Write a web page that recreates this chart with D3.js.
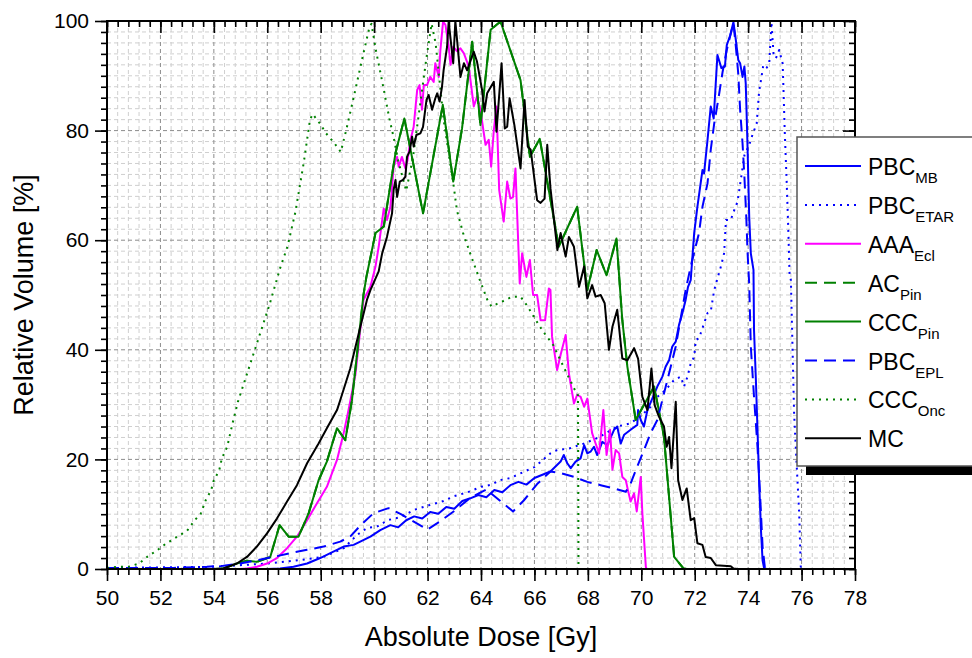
<!DOCTYPE html>
<html>
<head>
<meta charset="utf-8">
<script src="https://cdn.jsdelivr.net/npm/d3@7"></script>
<style>
  html, body { margin: 0; padding: 0; background: #fff; }
  svg { display: block; }
  text { font-family: Arial, "Liberation Sans", sans-serif; fill: #000; }
</style>
</head>
<body>
<svg id="chart" width="972" height="658"></svg>
<script>
// Dose-volume histogram data: [absolute dose (Gy), relative volume (%)]
const PBC_MB = [
  [50.0,0],[56.0,0],[56.48,0.1],[56.98,0.4],[57.49,1.0],[57.98,2.0],[58.36,2.9],[58.86,4.1],[59.23,4.4],[59.48,5.0],
  [59.86,5.9],[60.23,7.1],[60.61,8.0],[60.9,7.6],[61.2,8.9],[61.5,9.6],[61.8,9.2],[62.1,10.4],[62.4,10.1],[62.7,11.3],
  [63.0,11.0],[63.3,12.4],[63.6,12.9],[63.9,13.5],[64.2,13.1],[64.5,14.4],[64.8,14.0],[65.1,15.3],[65.4,15.9],[65.7,15.4],
  [66.0,16.6],[66.3,17.2],[66.6,17.8],[66.79,18.7],[66.98,19.6],[67.1,20.8],[67.23,19.3],[67.36,18.4],[67.54,19.6],[67.73,20.2],
  [67.86,22.6],[67.98,21.1],[68.1,21.4],[68.23,22.3],[68.35,20.8],[68.54,23.2],[68.73,22.6],[68.98,25.4],[69.1,26.0],[69.23,22.9],
  [69.36,24.5],[69.6,25.4],[69.85,26.3],[69.88,29.0],[69.98,27.2],[70.1,26.0],[70.23,29.0],[70.6,33.3],[70.79,35.1],[70.91,36.9],
  [71.04,38.1],[71.16,40.6],[71.29,41.5],[71.41,44.5],[71.54,46.7],[71.66,49.1],[71.75,51.5],[71.85,52.7],[71.98,61.3],[72.1,66.1],
  [72.29,72.8],[72.35,72.2],[72.48,78.3],[72.6,84.4],[72.71,82.2],[72.85,93.8],[73.0,91.4],[73.13,91.7],[73.2,95.6],[73.33,97.4],
  [73.45,99.8],[73.54,96.5],[73.63,92.9],[73.7,92.3],[73.79,89.8],[73.86,91.7],[73.91,88.6],[73.95,81.9],[73.98,76.5],[74.04,64.3],
  [74.1,57.6],[74.2,54.6],[74.22,43.6],[74.29,34.5],[74.35,25.4],[74.41,16.2],[74.48,7.1],[74.54,1.6],[74.6,0.1],[74.7,0]
];
const PBC_ETAR = [
  [50.0,0.2],[54.0,0.4],[56.0,1.0],[57.0,1.5],[58.1,2.2],[58.86,3.8],[59.36,6.2],[59.74,7.5],[60.1,7.7],[60.5,8.9],
  [61.0,9.5],[61.5,10.8],[62.1,11.7],[62.6,12.4],[63.0,13.3],[63.5,14.0],[64.0,15.0],[64.4,15.4],[64.7,16.2],[65.1,16.6],
  [65.5,17.5],[66.0,18.6],[66.6,21.1],[66.85,21.7],[67.3,22.0],[67.86,22.9],[68.4,24.0],[69.1,26.0],[69.6,26.6],[70.0,28.0],
  [70.35,29.6],[70.6,31.4],[70.91,32.7],[71.23,34.5],[71.48,35.1],[71.6,33.3],[71.73,35.1],[71.85,37.5],[71.98,38.7],[72.04,41.8],
  [72.16,42.1],[72.35,44.8],[72.48,46.7],[72.6,47.0],[72.73,50.9],[72.85,53.0],[72.98,55.2],[73.1,57.6],[73.17,63.7],[73.35,63.7],
  [73.48,65.5],[73.6,67.0],[73.67,69.2],[73.86,75.5],[74.04,77.4],[74.16,79.2],[74.32,81.3],[74.41,87.1],[74.5,89.8],[74.57,92.0],
  [74.7,91.5],[74.79,92.3],[74.85,97.7],[74.87,99.8],[74.95,94.1],[75.04,93.2],[75.16,94.7],[75.29,92.3],[75.32,88.0],[75.37,79.8],
  [75.44,71.0],[75.5,62.5],[75.55,54.0],[75.6,52.7],[75.66,40.6],[75.72,28.4],[75.82,18.7],[75.91,10.2],[75.97,0.4],[76.0,0]
];
const AAA_Ecl = [
  [50.0,0],[55.0,0],[55.24,0.1],[55.61,0.4],[55.99,1.0],[56.36,2.0],[56.74,3.8],[57.11,5.9],[57.49,8.9],[57.86,12.0],
  [58.23,15.0],[58.61,19.9],[58.86,24.8],[59.04,29.0],[59.3,35.5],[59.6,49.1],[59.86,51.5],[60.05,55.2],[60.17,58.8],[60.36,65.8],
  [60.48,63.7],[60.61,66.1],[60.73,73.4],[60.86,75.2],[60.92,73.4],[61.04,75.2],[61.17,73.1],[61.25,74.6],[61.36,78.3],[61.48,80.7],
  [61.61,87.4],[61.7,88.3],[61.79,83.8],[61.86,88.3],[61.98,88.3],[62.1,89.8],[62.23,88.9],[62.29,92.3],[62.42,89.8],[62.48,94.7],
  [62.58,99.9],[62.67,99.3],[62.79,95.3],[62.86,92.0],[62.96,95.3],[63.1,94.5],[63.23,95.0],[63.36,94.1],[63.54,91.7],[63.73,84.4],
  [63.85,86.2],[63.98,83.8],[64.07,80.7],[64.17,77.4],[64.29,78.3],[64.38,73.4],[64.48,80.1],[64.58,84.4],[64.68,69.2],[64.85,63.4],
  [64.98,70.7],[65.1,67.6],[65.2,67.9],[65.29,73.1],[65.45,52.1],[65.54,57.6],[65.7,53.3],[65.83,56.4],[65.95,50.0],[66.1,50.0],
  [66.23,45.4],[66.4,45.4],[66.54,51.2],[66.6,50.9],[66.66,42.4],[66.85,36.3],[66.98,39.1],[67.17,42.7],[67.29,35.7],[67.48,30.2],
  [67.6,31.8],[67.73,31.4],[67.86,29.6],[67.98,31.1],[68.16,24.8],[68.29,22.9],[68.42,21.1],[68.58,29.0],[68.7,20.8],[68.83,25.4],
  [68.92,18.1],[69.04,21.7],[69.17,21.1],[69.29,16.8],[69.42,16.2],[69.5,14.4],[69.6,12.3],[69.73,13.8],[69.83,10.5],[69.98,16.8],
  [70.04,10.2],[70.17,0.4],[70.2,0]
];
const CCC_Pin = [
  [50.0,0],[54.0,0],[54.36,0.1],[54.86,1.0],[55.24,1.5],[55.61,1.3],[56.11,2.2],[56.46,8.0],[56.8,5.9],[57.17,5.9],
  [57.55,10.2],[57.92,16.2],[58.23,19.6],[58.61,25.7],[58.92,23.5],[59.17,30.8],[59.6,50.0],[59.71,53.3],[60.05,61.3],[60.36,62.5],
  [60.8,75.9],[61.13,82.2],[61.29,78.3],[61.83,64.9],[62.57,84.7],[62.96,70.7],[63.29,80.4],[63.67,96.2],[63.98,81.0],[64.36,98.4],
  [64.73,99.9],[65.48,89.2],[65.83,75.2],[66.2,78.5],[66.91,58.8],[67.6,66.1],[67.98,50.9],[68.33,58.2],[68.7,53.6],[69.07,60.3],
  [69.29,45.4],[69.48,36.9],[69.79,27.2],[70.48,33.3],[70.85,24.1],[71.23,2.2],[71.58,0.1],[71.7,0]
];
// AC (Pinnacle) coincides with the CCC (Pinnacle) curve
const AC_Pin = CCC_Pin.map(d => [d[0], d[1]]);
const PBC_EPL = [
  [50.0,0.2],[52.48,0.2],[53.74,0.4],[54.36,0.6],[54.99,1.0],[55.61,1.6],[56.23,2.2],[56.86,2.9],[57.49,3.5],[58.11,4.1],
  [58.73,5.0],[59.1,5.9],[59.5,8.0],[59.98,10.2],[60.54,11.1],[61.0,10.0],[61.5,8.6],[62.0,7.2],[62.5,8.8],[63.0,10.6],
  [63.6,13.0],[64.2,14.5],[64.7,12.5],[65.2,10.5],[65.6,12.5],[66.1,15.5],[66.6,17.8],[66.98,17.5],[67.48,16.8],[67.98,15.9],
  [68.48,15.3],[68.98,14.7],[69.42,14.1],[69.6,15.6],[69.85,18.7],[70.1,21.7],[70.35,24.8],[70.6,27.2],[71.04,35.7],[71.29,40.6],
  [71.66,50.9],[71.85,55.2],[72.16,61.3],[72.29,66.1],[72.48,70.4],[72.6,76.5],[72.73,81.3],[72.88,85.6],[73.04,90.6],[73.2,94.7],
  [73.35,97.7],[73.45,99.6],[73.54,95.3],[73.63,90.4],[73.7,83.8],[73.79,77.7],[73.86,71.6],[73.93,64.3],[73.98,57.6],[74.04,52.0],
  [74.1,40.6],[74.22,31.4],[74.35,22.3],[74.45,13.2],[74.54,4.1],[74.63,0.1],[74.7,0]
];
const CCC_Onc = [
  [50.0,0.2],[50.4,0.4],[50.8,0.4],[51.2,1.0],[51.5,2.2],[51.9,3.5],[52.2,4.6],[52.6,5.8],[53.0,7.0],[53.3,9.0],
  [53.5,10.0],[53.7,12.6],[53.9,14.4],[54.0,16.2],[54.2,18.0],[54.3,20.2],[54.5,22.3],[54.7,26.6],[54.9,30.5],[55.3,36.5],
  [55.7,42.5],[56.1,48.5],[56.48,54.9],[56.76,58.9],[57.05,65.1],[57.36,74.0],[57.6,82.0],[57.7,83.0],[57.97,81.3],[58.2,79.5],
  [58.5,77.8],[58.75,76.1],[58.96,80.2],[59.25,86.4],[59.53,92.6],[59.83,99.0],[59.9,99.5],[60.06,94.8],[60.32,88.5],[60.57,82.2],
  [60.75,78.3],[60.9,74.5],[61.2,69.0],[61.45,75.0],[61.7,84.0],[61.95,93.0],[62.15,99.5],[62.3,96.0],[62.6,82.0],[62.98,69.8],
  [63.1,65.4],[63.33,61.3],[63.63,57.1],[63.92,53.2],[64.23,49.2],[64.39,47.9],[64.79,48.8],[65.17,49.7],[65.48,49.7],[65.75,47.9],
  [65.98,46.0],[66.3,43.5],[66.7,40.9],[67.1,36.8],[67.48,33.0],[67.63,31.7],[67.65,0]
];
const MC = [
  [50.0,0],[54.0,0],[54.36,0.1],[54.86,1.0],[55.24,2.2],[55.61,4.1],[55.99,6.5],[56.36,9.2],[56.74,12.3],[57.11,15.3],
  [57.49,19.3],[57.92,22.9],[58.23,25.7],[58.61,29.0],[58.73,30.8],[59.1,36.5],[59.4,42.5],[59.73,49.1],[59.86,50.9],[60.05,53.0],
  [60.17,54.3],[60.3,57.6],[60.48,60.6],[60.67,64.9],[60.73,69.2],[60.8,71.0],[60.86,67.9],[60.96,70.7],[61.08,71.0],[61.17,71.6],
  [61.23,75.2],[61.33,76.2],[61.42,78.9],[61.48,77.1],[61.58,79.2],[61.73,79.5],[61.83,80.7],[61.96,85.6],[62.04,86.5],[62.17,83.8],
  [62.29,85.9],[62.36,86.8],[62.45,85.3],[62.54,88.0],[62.6,91.0],[62.73,95.3],[62.79,99.9],[62.96,92.3],[63.04,100],[63.23,89.8],
  [63.36,92.3],[63.48,91.0],[63.73,94.4],[63.85,92.6],[64.04,87.4],[64.13,83.5],[64.23,86.8],[64.48,88.9],[64.58,79.8],[64.77,92.3],
  [64.89,80.4],[64.98,80.7],[65.07,85.9],[65.25,81.0],[65.48,73.1],[65.63,85.6],[65.75,77.1],[65.86,76.5],[66.1,67.3],[66.23,66.8],
  [66.38,67.6],[66.48,77.4],[66.6,69.5],[66.86,58.2],[66.98,61.3],[67.17,57.0],[67.29,60.6],[67.48,58.8],[67.67,51.5],[67.86,55.2],
  [67.98,49.4],[68.16,51.8],[68.29,49.7],[68.48,50.0],[68.63,48.5],[68.79,40.0],[68.92,44.2],[69.1,47.3],[69.29,38.4],[69.48,38.1],
  [69.73,40.3],[69.88,38.4],[70.04,31.4],[70.23,29.0],[70.38,36.6],[70.5,29.9],[70.66,27.8],[70.85,26.0],[70.95,22.3],[71.04,24.1],
  [71.13,18.4],[71.29,30.5],[71.38,16.2],[71.54,12.6],[71.7,14.7],[71.85,8.9],[71.98,9.3],[72.1,4.7],[72.29,4.4],[72.41,2.2],
  [72.6,2.0],[72.79,0.7],[73.35,0.5],[73.45,0.1],[73.6,0]
];

const xMajorTicks = [50, 52, 54, 56, 58, 60, 62, 64, 66, 68, 70, 72, 74, 76, 78];
const yMajorTicks = [0, 20, 40, 60, 80, 100];
const xTitle = "Absolute Dose [Gy]";
const yTitle = "Relative Volume [%]";

// Series drawing styles, in legend order
const series = [
  { name: "PBC", sub: "MB",   data: PBC_MB,   color: "#0000ff", dash: null },
  { name: "PBC", sub: "ETAR", data: PBC_ETAR, color: "#0000ff", dash: "2,5" },
  { name: "AAA", sub: "Ecl",  data: AAA_Ecl,  color: "#ff00ff", dash: null },
  { name: "AC",  sub: "Pin",  data: AC_Pin,   color: "#008000", dash: "12,7" },
  { name: "CCC", sub: "Pin",  data: CCC_Pin,  color: "#008000", dash: null },
  { name: "PBC", sub: "EPL",  data: PBC_EPL,  color: "#0000ff", dash: "12,7" },
  { name: "CCC", sub: "Onc",  data: CCC_Onc,  color: "#008000", dash: "2,5" },
  { name: "MC",  sub: "",     data: MC,       color: "#000000", dash: null }
];

const svg = d3.select("#chart");
const plotL = 107, plotR = 855, plotT = 21, plotB = 569;

const x = d3.scaleLinear().domain([50, 78]).range([plotL, plotR]);
const y = d3.scaleLinear().domain([0, 100]).range([plotB, plotT]);

const xMinor = d3.range(0, 71).map(i => +(50 + i * 0.4).toFixed(1));
const yMinor = d3.range(0, 51).map(i => i * 2);

// Grid: light minor lines, darker major lines
const grid = svg.append("g");
grid.selectAll("line.vmin").data(xMinor.filter((d, i) => i % 5 !== 0)).join("line")
  .attr("x1", d => x(d)).attr("x2", d => x(d)).attr("y1", plotT).attr("y2", plotB)
  .attr("stroke", "#cfcfcf").attr("stroke-width", 1).attr("stroke-dasharray", "4,3");
grid.selectAll("line.hmin").data(yMinor.filter((d, i) => i % 10 !== 0)).join("line")
  .attr("y1", d => y(d)).attr("y2", d => y(d)).attr("x1", plotL).attr("x2", plotR)
  .attr("stroke", "#cfcfcf").attr("stroke-width", 1).attr("stroke-dasharray", "4,3");
grid.selectAll("line.vmaj").data(xMajorTicks.slice(1, -1)).join("line")
  .attr("x1", d => x(d)).attr("x2", d => x(d)).attr("y1", plotT).attr("y2", plotB)
  .attr("stroke", "#8c8c8c").attr("stroke-width", 1).attr("stroke-dasharray", "4,3");
grid.selectAll("line.hmaj").data(yMajorTicks.slice(1, -1)).join("line")
  .attr("y1", d => y(d)).attr("y2", d => y(d)).attr("x1", plotL).attr("x2", plotR)
  .attr("stroke", "#8c8c8c").attr("stroke-width", 1).attr("stroke-dasharray", "4,3");

// Curves
svg.append("clipPath").attr("id", "plotClip").append("rect")
  .attr("x", plotL).attr("y", plotT - 2).attr("width", plotR - plotL).attr("height", plotB - plotT + 2);
const line = d3.line().x(d => x(d[0])).y(d => y(d[1]));
const curves = svg.append("g").attr("clip-path", "url(#plotClip)");
series.forEach(s => {
  curves.append("path").datum(s.data)
    .attr("d", line).attr("fill", "none")
    .attr("stroke", s.color).attr("stroke-width", 2)
    .attr("stroke-linejoin", "round")
    .attr("stroke-dasharray", s.dash);
});

// Axes
function styleAxis(g, labels) {
  g.select(".domain").remove();
  g.selectAll(".tick line").attr("stroke", "#000").attr("stroke-width", 1.6);
  g.selectAll("text").style("font-size", "21px").style("font-family", "Arial, 'Liberation Sans', sans-serif");
  if (!labels) g.selectAll("text").remove();
}
const fmt = d3.format("d");
svg.append("g").attr("transform", `translate(0,${plotB})`)
  .call(d3.axisBottom(x).tickValues(xMinor).tickSize(6).tickFormat(""))
  .call(g => styleAxis(g, false));
svg.append("g").attr("transform", `translate(0,${plotB})`)
  .call(d3.axisBottom(x).tickValues(xMajorTicks).tickSize(12).tickPadding(9).tickFormat(fmt))
  .call(g => styleAxis(g, true));
svg.append("g").attr("transform", `translate(0,${plotT})`)
  .call(d3.axisTop(x).tickValues(xMinor).tickSize(-6).tickFormat(""))
  .call(g => styleAxis(g, false));
svg.append("g").attr("transform", `translate(0,${plotT})`)
  .call(d3.axisTop(x).tickValues(xMajorTicks).tickSize(-12).tickFormat(""))
  .call(g => styleAxis(g, false));
svg.append("g").attr("transform", `translate(${plotL},0)`)
  .call(d3.axisLeft(y).tickValues(yMinor).tickSize(6).tickFormat(""))
  .call(g => styleAxis(g, false));
svg.append("g").attr("transform", `translate(${plotL},0)`)
  .call(d3.axisLeft(y).tickValues(yMajorTicks).tickSize(12).tickPadding(6).tickFormat(fmt))
  .call(g => styleAxis(g, true));
svg.append("g").attr("transform", `translate(${plotR},0)`)
  .call(d3.axisRight(y).tickValues(yMinor).tickSize(-6).tickFormat(""))
  .call(g => styleAxis(g, false));
svg.append("g").attr("transform", `translate(${plotR},0)`)
  .call(d3.axisRight(y).tickValues(yMajorTicks).tickSize(-12).tickFormat(""))
  .call(g => styleAxis(g, false));

// Frame
svg.append("rect").attr("x", plotL).attr("y", plotT).attr("width", plotR - plotL).attr("height", plotB - plotT)
  .attr("fill", "none").attr("stroke", "#000").attr("stroke-width", 2);

// Axis titles
svg.append("text").attr("x", (plotL + plotR) / 2).attr("y", 646)
  .attr("text-anchor", "middle").style("font-size", "27px").text(xTitle);
svg.append("text").attr("transform", `translate(33,${(plotT + plotB) / 2}) rotate(-90)`)
  .attr("text-anchor", "middle").style("font-size", "27px").text(yTitle);

// Legend with drop shadow
const lg = { x: 797, y: 137, w: 178, h: 329, row0: 166, step: 38.9 };
svg.append("rect").attr("x", lg.x + 9).attr("y", lg.y + 9).attr("width", lg.w).attr("height", lg.h).attr("fill", "#000");
svg.append("rect").attr("x", lg.x).attr("y", lg.y).attr("width", lg.w).attr("height", lg.h)
  .attr("fill", "#fff").attr("stroke", "#555").attr("stroke-width", 1.5);
series.forEach((s, i) => {
  const cy = lg.row0 + i * lg.step;
  svg.append("line").attr("x1", 805).attr("x2", 861).attr("y1", cy).attr("y2", cy)
    .attr("stroke", s.color).attr("stroke-width", 2).attr("stroke-dasharray", s.dash);
  const t = svg.append("text").attr("x", 868).attr("y", cy + 9).style("font-size", "23px");
  t.append("tspan").text(s.name);
  if (s.sub) t.append("tspan").attr("dy", 8).style("font-size", "15px").text(s.sub);
});
</script>
</body>
</html>
